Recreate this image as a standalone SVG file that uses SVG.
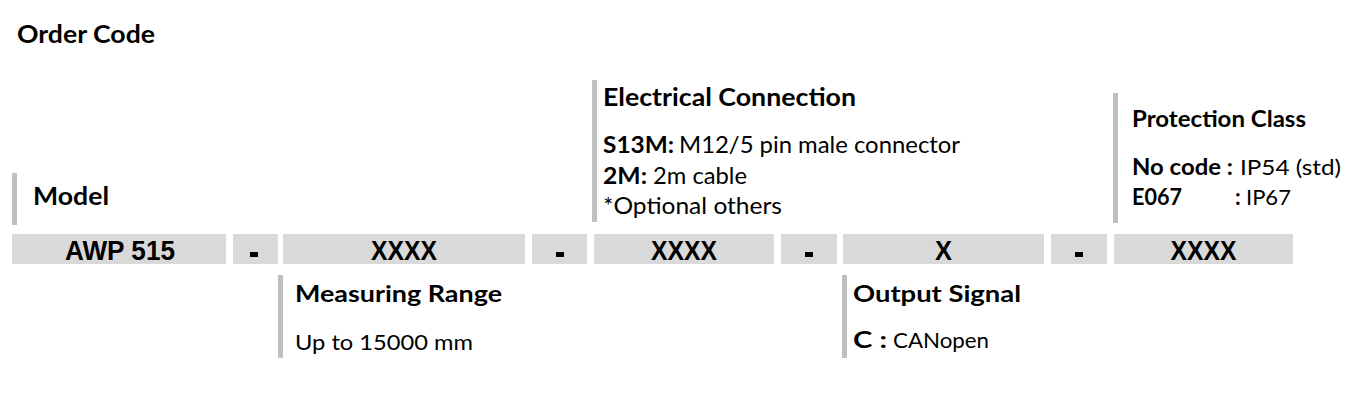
<svg xmlns="http://www.w3.org/2000/svg" width="1368" height="406" viewBox="0 0 1368 406">
<style>
.box{fill:#d9d9d9}
.bar{fill:#bfbfbf}
.code{font-family:"Liberation Sans",Arial,sans-serif;font-weight:bold;font-size:27px;fill:#000;text-anchor:middle}
.h{font-family:Lato,"Open Sans",sans-serif;font-weight:bold;fill:#000}
.t{font-family:Lato,"Open Sans",sans-serif;font-weight:normal;fill:#000}
</style>
<rect width="1368" height="406" fill="#fff"/>
<g id="title"><text class="h" x="17" y="43" font-size="25" textLength="138" lengthAdjust="spacingAndGlyphs">Order Code</text></g>

<g id="code-model"><rect class="box" x="12" y="234" width="214" height="30"/><text class="code" x="120" y="260" textLength="110" lengthAdjust="spacingAndGlyphs">AWP 515</text></g>
<g id="sep1"><rect class="box" x="233" y="234" width="45" height="30"/><rect x="250" y="252" width="8" height="5" fill="#000"/></g>
<g id="code-range"><rect class="box" x="283" y="234" width="242" height="30"/><text class="code" x="404" y="260" textLength="66" lengthAdjust="spacingAndGlyphs">XXXX</text></g>
<g id="sep2"><rect class="box" x="532" y="234" width="55" height="30"/><rect x="556" y="252" width="8" height="5" fill="#000"/></g>
<g id="code-connection"><rect class="box" x="594" y="234" width="180" height="30"/><text class="code" x="684" y="260" textLength="66" lengthAdjust="spacingAndGlyphs">XXXX</text></g>
<g id="sep3"><rect class="box" x="781" y="234" width="56" height="30"/><rect x="805" y="252" width="8" height="5" fill="#000"/></g>
<g id="code-output"><rect class="box" x="843" y="234" width="201" height="30"/><text class="code" x="943.5" y="260" textLength="17" lengthAdjust="spacingAndGlyphs">X</text></g>
<g id="sep4"><rect class="box" x="1051" y="234" width="56" height="30"/><rect x="1075" y="252" width="8" height="5" fill="#000"/></g>
<g id="code-protection"><rect class="box" x="1114" y="234" width="179" height="30"/><text class="code" x="1203.5" y="260" textLength="66" lengthAdjust="spacingAndGlyphs">XXXX</text></g>

<g id="label-model"><rect class="bar" x="12" y="173" width="5" height="52"/><text class="h" x="33" y="205" font-size="24" textLength="76" lengthAdjust="spacingAndGlyphs">Model</text></g>

<g id="label-connection"><rect class="bar" x="592" y="80" width="5" height="142"/>
<text class="h" x="603" y="106" font-size="24" textLength="253" lengthAdjust="spacingAndGlyphs">Electrical Connection</text>
<text class="h" x="603" y="153" font-size="23" textLength="71" lengthAdjust="spacingAndGlyphs">S13M:</text>
<text class="t" x="679" y="153" font-size="23" textLength="281" lengthAdjust="spacingAndGlyphs">M12/5 pin male connector</text>
<text class="h" x="603" y="184" font-size="23" textLength="44" lengthAdjust="spacingAndGlyphs">2M:</text>
<text class="t" x="653" y="184" font-size="23" textLength="94" lengthAdjust="spacingAndGlyphs">2m cable</text>
<text class="t" x="603" y="214" font-size="23" textLength="179" lengthAdjust="spacingAndGlyphs">*Optional others</text></g>

<g id="label-protection"><rect class="bar" x="1113" y="93" width="5" height="130"/>
<text class="h" x="1132" y="127" font-size="22" textLength="174" lengthAdjust="spacingAndGlyphs">Protection Class</text>
<text class="h" x="1132" y="175" font-size="22" textLength="101" lengthAdjust="spacingAndGlyphs">No code :</text>
<text class="t" x="1240" y="175" font-size="22" textLength="101" lengthAdjust="spacingAndGlyphs">IP54 (std)</text>
<text class="h" x="1132" y="205" font-size="22" textLength="50" lengthAdjust="spacingAndGlyphs">E067</text>
<text class="h" x="1235" y="205" font-size="22">:</text>
<text class="t" x="1246" y="205" font-size="22">IP67</text></g>

<g id="label-range"><rect class="bar" x="278" y="275" width="5" height="83"/>
<text class="h" x="295" y="302" font-size="23" textLength="207" lengthAdjust="spacingAndGlyphs">Measuring Range</text>
<text class="t" x="295" y="350" font-size="22" textLength="178" lengthAdjust="spacingAndGlyphs">Up to 15000 mm</text></g>

<g id="label-output"><rect class="bar" x="842" y="275" width="5" height="83"/>
<text class="h" x="853" y="302" font-size="23" textLength="168" lengthAdjust="spacingAndGlyphs">Output Signal</text>
<text class="h" x="853" y="348" font-size="22" textLength="34" lengthAdjust="spacingAndGlyphs">C :</text>
<text class="t" x="893" y="348" font-size="22" textLength="96" lengthAdjust="spacingAndGlyphs">CANopen</text></g>

<g id="connectors"></g>
</svg>
